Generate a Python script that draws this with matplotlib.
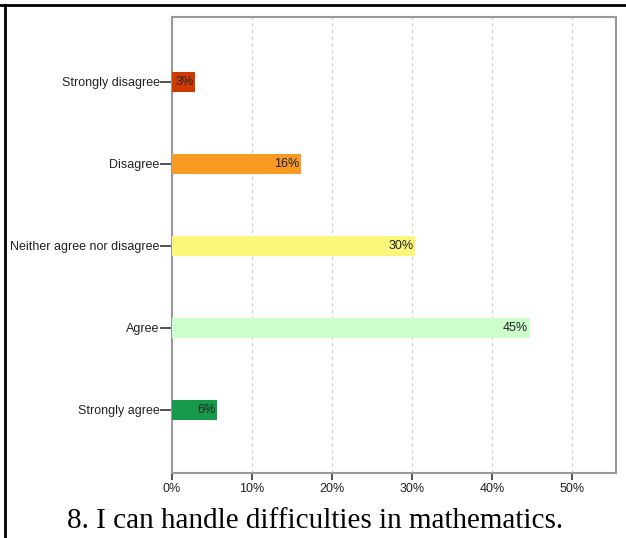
import matplotlib.pyplot as plt
from matplotlib.lines import Line2D

categories = ["Strongly disagree", "Disagree", "Neither agree nor disagree", "Agree", "Strongly agree"]
percents = [2.9, 16.1, 30.4, 44.7, 5.6]
labels = ["3%", "16%", "30%", "45%", "6%"]
colors = ["#D03A00", "#F99B22", "#FAF77A", "#CCFFCC", "#15994B"]
xticks = [0, 10, 20, 30, 40, 50]
title = "8. I can handle difficulties in mathematics."

plt.rcParams["font.family"] = ["Liberation Sans", "DejaVu Sans"]

fig = plt.figure(figsize=(6.26, 5.38), dpi=100)
ax = fig.add_axes([172 / 626, 1 - 473 / 538, 444 / 626, 456 / 538])

ypos = list(range(len(categories)))
ax.barh(ypos, percents, height=0.245, color=colors, edgecolor="none", zorder=3)
for y, v, lab in zip(ypos, percents, labels):
    ax.text(v - 0.2, y, lab, ha="right", va="center", fontsize=9,
            color="#222222", zorder=4)

ax.set_xlim(0, 55.5)
ax.set_ylim(4.77, -0.79)
ax.set_xticks(xticks)
ax.set_xticklabels([f"{t}%" for t in xticks], fontsize=9, color="#222222")
ax.set_yticks(ypos)
ax.set_yticklabels(categories, fontsize=9, color="#222222")
ax.tick_params(axis="y", length=9, width=1.2, color="#333333", pad=0)
ax.tick_params(axis="x", length=5, width=1.2, color="#333333", pad=2)
ax.xaxis.grid(True, linestyle=(0, (3, 3)), color="#CCCCCC", linewidth=0.8, zorder=0)
for s in ax.spines.values():
    s.set_color("#999999")
    s.set_linewidth(1.5)

fig.text(315 / 626, 1 - 521 / 538, title, ha="center", va="center",
         family="Liberation Serif", fontsize=21, color="black")

# outer frame lines
fig.add_artist(Line2D([0, 1], [1 - 5 / 538, 1 - 5 / 538], color="black", linewidth=2,
                      transform=fig.transFigure))
fig.add_artist(Line2D([5 / 626, 5 / 626], [0, 1 - 5 / 538], color="black", linewidth=2,
                      transform=fig.transFigure))

fig.savefig("out.png", dpi=100)
